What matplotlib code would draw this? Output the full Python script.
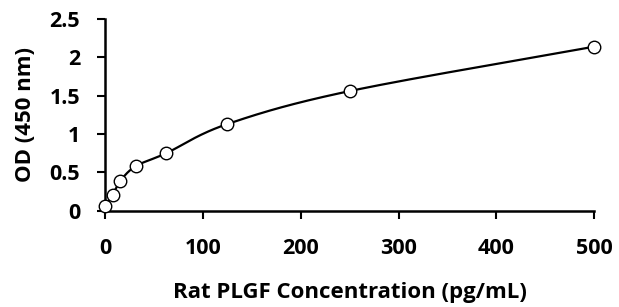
import matplotlib

matplotlib.use("Agg")
import matplotlib.pyplot as plt
import numpy as np

concentration = [0, 7.8, 15.6, 31.25, 62.5, 125, 250, 500]
od_450 = [0.065, 0.21, 0.39, 0.58, 0.75, 1.13, 1.56, 2.14]
x_ticks = [0, 100, 200, 300, 400, 500]
y_ticks = [0, 0.5, 1, 1.5, 2, 2.5]
y_tick_labels = ["0", "0.5", "1", "1.5", "2", "2.5"]


def _smooth(xs, ys, n=40):
    # Catmull-Rom style smoothing through the points (like a spreadsheet "smoothed line")
    xs = np.asarray(xs, float)
    ys = np.asarray(ys, float)
    px = np.concatenate([[2 * xs[0] - xs[1]], xs, [2 * xs[-1] - xs[-2]]])
    py = np.concatenate([[2 * ys[0] - ys[1]], ys, [2 * ys[-1] - ys[-2]]])
    out_x, out_y = [], []
    t = np.linspace(0, 1, n)
    for i in range(1, len(px) - 2):
        p0, p1, p2, p3 = (np.array([px[j], py[j]]) for j in range(i - 1, i + 3))
        c1 = p1 + (p2 - p0) / 6
        c2 = p2 - (p3 - p1) / 6
        seg = ((1 - t) ** 3)[:, None] * p1 + (3 * (1 - t) ** 2 * t)[:, None] * c1 \
            + (3 * (1 - t) * t ** 2)[:, None] * c2 + (t ** 3)[:, None] * p2
        out_x.extend(seg[:, 0])
        out_y.extend(seg[:, 1])
    return out_x, out_y


plt.rcParams["font.family"] = ["Open Sans", "DejaVu Sans"]
plt.rcParams["font.weight"] = "bold"

fig = plt.figure(figsize=(6.19, 3.07), dpi=100)
ax = fig.add_axes([0.170, 0.314, 0.790, 0.624])

sx, sy = _smooth(concentration, od_450)
ax.plot(sx, sy, color="black", lw=1.6, clip_on=False, zorder=2)
ax.plot(concentration, od_450, "o", ms=9, mfc="white", mec="black", mew=1.0,
        clip_on=False, zorder=3)

ax.set_xlim(0, 500)
ax.set_ylim(0, 2.5)
ax.set_xticks(x_ticks)
ax.set_yticks(y_ticks)
ax.set_yticklabels(y_tick_labels)
ax.tick_params(labelsize=15.5, width=1.5, length=6)
ax.tick_params(axis="y", pad=12)
ax.tick_params(axis="x", pad=14)
for lbl in ax.get_xticklabels() + ax.get_yticklabels():
    lbl.set_fontweight("bold")
for side in ("top", "right"):
    ax.spines[side].set_visible(False)
for side in ("left", "bottom"):
    ax.spines[side].set_linewidth(1.8)

ax.set_xlabel("Rat PLGF Concentration (pg/mL)", fontsize=16, fontweight="bold", labelpad=16)
ax.set_ylabel("OD (450 nm)", fontsize=16, fontweight="bold", labelpad=10)

fig.savefig("out.png", dpi=100)
